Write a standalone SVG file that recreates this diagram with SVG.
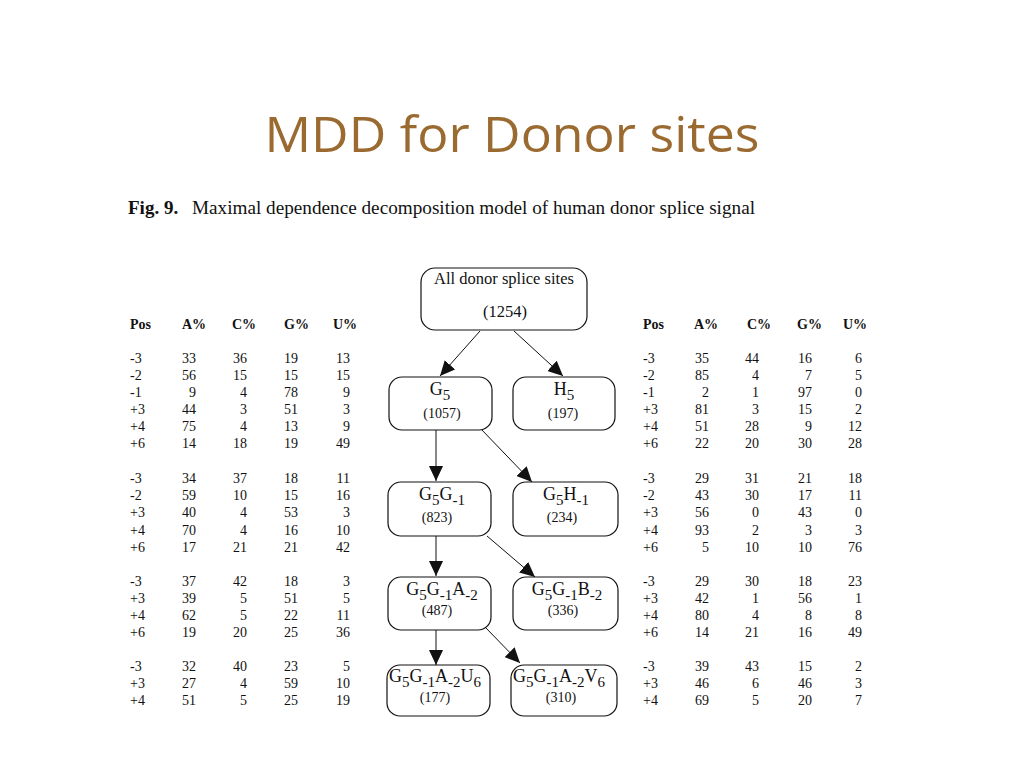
<svg xmlns="http://www.w3.org/2000/svg" width="1024" height="768" viewBox="0 0 1024 768">
<style>
.title{font-family:"Open Sans","Noto Sans",sans-serif;font-size:50px;fill:#9a6a30}
.cap{font-family:"Liberation Serif",serif;font-size:19px;fill:#111}
.t{font-family:"Liberation Serif",serif;font-size:14px;fill:#111}
.h{font-family:"Liberation Serif",serif;font-size:14px;font-weight:bold;fill:#111}
.r{text-anchor:end}
.box{fill:#fff;stroke:#111;stroke-width:1.2}
.lab{font-family:"Liberation Serif",serif;font-size:18px;fill:#111;text-anchor:middle}
.rl{font-family:"Liberation Serif",serif;font-size:16.5px;fill:#111;text-anchor:middle}
.st{text-anchor:start}
.cnt{font-family:"Liberation Serif",serif;font-size:14px;fill:#111;text-anchor:middle}
.s{font-size:15px}
.e{stroke:#111;stroke-width:1;fill:none;marker-end:url(#ah)}
</style>
<defs>
<marker id="ah" markerUnits="userSpaceOnUse" markerWidth="16" markerHeight="14" refX="15" refY="7" orient="auto">
<path d="M0,0 L15,7 L0,14 Z" fill="#111"/>
</marker>
</defs>
<rect width="1024" height="768" fill="#fff"/>
<text class="title" x="512" y="152" text-anchor="middle" textLength="495" lengthAdjust="spacingAndGlyphs">MDD for Donor sites</text>
<text class="cap" x="128" y="214"><tspan font-weight="bold">Fig. 9.</tspan></text>
<text class="cap" x="192" y="214" textLength="563" lengthAdjust="spacingAndGlyphs">Maximal dependence decomposition model of human donor splice signal</text>

<g id="connectors">
<line class="e" x1="480" y1="331" x2="440" y2="376"/>
<line class="e" x1="514" y1="331" x2="563" y2="376"/>
<line class="e" x1="436" y1="430" x2="436" y2="481"/>
<line class="e" x1="480" y1="428" x2="532" y2="482"/>
<line class="e" x1="436" y1="536" x2="436" y2="576"/>
<line class="e" x1="487" y1="536" x2="535" y2="577"/>
<line class="e" x1="436" y1="630" x2="436" y2="665"/>
<line class="e" x1="486" y1="628" x2="520" y2="663"/>
</g>

<g id="root">
<rect class="box" x="421" y="268" width="166" height="62" rx="14"/>
<text class="rl" x="504" y="284">All donor splice sites</text>
<text class="rl" x="505" y="317">(1254)</text>
</g>
<g id="g5">
<rect class="box" x="389" y="377" width="103" height="53" rx="13"/>
<text class="lab" x="440" y="395">G<tspan class="s" dy="5">5</tspan></text>
<text class="cnt" x="442" y="418">(1057)</text>
</g>
<g id="h5">
<rect class="box" x="513" y="377" width="102" height="53" rx="13"/>
<text class="lab" x="564" y="395">H<tspan class="s" dy="5">5</tspan></text>
<text class="cnt" x="563" y="418">(197)</text>
</g>
<g id="g5g1">
<rect class="box" x="388" y="482" width="103" height="54" rx="13"/>
<text class="lab" x="442" y="500">G<tspan class="s" dy="5">5</tspan><tspan dy="-5">G</tspan><tspan class="s" dy="5">-1</tspan></text>
<text class="cnt" x="437" y="522">(823)</text>
</g>
<g id="g5h1">
<rect class="box" x="513" y="482" width="105" height="54" rx="13"/>
<text class="lab" x="566" y="500">G<tspan class="s" dy="5">5</tspan><tspan dy="-5">H</tspan><tspan class="s" dy="5">-1</tspan></text>
<text class="cnt" x="562" y="522">(234)</text>
</g>
<g id="g5g1a2">
<rect class="box" x="388" y="577" width="103" height="53" rx="13"/>
<text class="lab" x="442" y="595">G<tspan class="s" dy="5">5</tspan><tspan dy="-5">G</tspan><tspan class="s" dy="5">-1</tspan><tspan dy="-5">A</tspan><tspan class="s" dy="5">-2</tspan></text>
<text class="cnt" x="437" y="615">(487)</text>
</g>
<g id="g5g1b2">
<rect class="box" x="513" y="577" width="105" height="53" rx="13"/>
<text class="lab" x="567" y="595">G<tspan class="s" dy="5">5</tspan><tspan dy="-5">G</tspan><tspan class="s" dy="5">-1</tspan><tspan dy="-5">B</tspan><tspan class="s" dy="5">-2</tspan></text>
<text class="cnt" x="563" y="615">(336)</text>
</g>
<g id="u6">
<rect class="box" x="387" y="665" width="103" height="51" rx="13"/>
<text class="lab st" x="389" y="682">G<tspan class="s" dy="5">5</tspan><tspan dy="-5">G</tspan><tspan class="s" dy="5">-1</tspan><tspan dy="-5">A</tspan><tspan class="s" dy="5">-2</tspan><tspan dy="-5">U</tspan><tspan class="s" dy="5">6</tspan></text>
<text class="cnt" x="435" y="702">(177)</text>
</g>
<g id="v6">
<rect class="box" x="511" y="665" width="106" height="51" rx="13"/>
<text class="lab st" x="513" y="682">G<tspan class="s" dy="5">5</tspan><tspan dy="-5">G</tspan><tspan class="s" dy="5">-1</tspan><tspan dy="-5">A</tspan><tspan class="s" dy="5">-2</tspan><tspan dy="-5">V</tspan><tspan class="s" dy="5">6</tspan></text>
<text class="cnt" x="561" y="702">(310)</text>
</g>

<g id="left-table">
<text class="h" x="130" y="329">Pos</text><text class="h" x="182" y="329">A%</text><text class="h" x="232" y="329">C%</text><text class="h" x="284" y="329">G%</text><text class="h" x="333" y="329">U%</text>
<g class="t">
<text x="130" y="363">-3</text><text x="130" y="380">-2</text><text x="130" y="397">-1</text><text x="130" y="414">+3</text><text x="130" y="431">+4</text><text x="130" y="448">+6</text>
<text x="130" y="483">-3</text><text x="130" y="500">-2</text><text x="130" y="517">+3</text><text x="130" y="535">+4</text><text x="130" y="552">+6</text>
<text x="130" y="586">-3</text><text x="130" y="603">+3</text><text x="130" y="620">+4</text><text x="130" y="637">+6</text>
<text x="130" y="671">-3</text><text x="130" y="688">+3</text><text x="130" y="705">+4</text>
</g>
<g class="t r">
<text x="196" y="363">33</text><text x="247" y="363">36</text><text x="298" y="363">19</text><text x="350" y="363">13</text>
<text x="196" y="380">56</text><text x="247" y="380">15</text><text x="298" y="380">15</text><text x="350" y="380">15</text>
<text x="196" y="397">9</text><text x="247" y="397">4</text><text x="298" y="397">78</text><text x="350" y="397">9</text>
<text x="196" y="414">44</text><text x="247" y="414">3</text><text x="298" y="414">51</text><text x="350" y="414">3</text>
<text x="196" y="431">75</text><text x="247" y="431">4</text><text x="298" y="431">13</text><text x="350" y="431">9</text>
<text x="196" y="448">14</text><text x="247" y="448">18</text><text x="298" y="448">19</text><text x="350" y="448">49</text>
<text x="196" y="483">34</text><text x="247" y="483">37</text><text x="298" y="483">18</text><text x="350" y="483">11</text>
<text x="196" y="500">59</text><text x="247" y="500">10</text><text x="298" y="500">15</text><text x="350" y="500">16</text>
<text x="196" y="517">40</text><text x="247" y="517">4</text><text x="298" y="517">53</text><text x="350" y="517">3</text>
<text x="196" y="535">70</text><text x="247" y="535">4</text><text x="298" y="535">16</text><text x="350" y="535">10</text>
<text x="196" y="552">17</text><text x="247" y="552">21</text><text x="298" y="552">21</text><text x="350" y="552">42</text>
<text x="196" y="586">37</text><text x="247" y="586">42</text><text x="298" y="586">18</text><text x="350" y="586">3</text>
<text x="196" y="603">39</text><text x="247" y="603">5</text><text x="298" y="603">51</text><text x="350" y="603">5</text>
<text x="196" y="620">62</text><text x="247" y="620">5</text><text x="298" y="620">22</text><text x="350" y="620">11</text>
<text x="196" y="637">19</text><text x="247" y="637">20</text><text x="298" y="637">25</text><text x="350" y="637">36</text>
<text x="196" y="671">32</text><text x="247" y="671">40</text><text x="298" y="671">23</text><text x="350" y="671">5</text>
<text x="196" y="688">27</text><text x="247" y="688">4</text><text x="298" y="688">59</text><text x="350" y="688">10</text>
<text x="196" y="705">51</text><text x="247" y="705">5</text><text x="298" y="705">25</text><text x="350" y="705">19</text>
</g>
</g>

<g id="right-table">
<text class="h" x="643" y="329">Pos</text><text class="h" x="694" y="329">A%</text><text class="h" x="747" y="329">C%</text><text class="h" x="797" y="329">G%</text><text class="h" x="843" y="329">U%</text>
<g class="t">
<text x="643" y="363">-3</text><text x="643" y="380">-2</text><text x="643" y="397">-1</text><text x="643" y="414">+3</text><text x="643" y="431">+4</text><text x="643" y="448">+6</text>
<text x="643" y="483">-3</text><text x="643" y="500">-2</text><text x="643" y="517">+3</text><text x="643" y="535">+4</text><text x="643" y="552">+6</text>
<text x="643" y="586">-3</text><text x="643" y="603">+3</text><text x="643" y="620">+4</text><text x="643" y="637">+6</text>
<text x="643" y="671">-3</text><text x="643" y="688">+3</text><text x="643" y="705">+4</text>
</g>
<g class="t r">
<text x="709" y="363">35</text><text x="759" y="363">44</text><text x="812" y="363">16</text><text x="862" y="363">6</text>
<text x="709" y="380">85</text><text x="759" y="380">4</text><text x="812" y="380">7</text><text x="862" y="380">5</text>
<text x="709" y="397">2</text><text x="759" y="397">1</text><text x="812" y="397">97</text><text x="862" y="397">0</text>
<text x="709" y="414">81</text><text x="759" y="414">3</text><text x="812" y="414">15</text><text x="862" y="414">2</text>
<text x="709" y="431">51</text><text x="759" y="431">28</text><text x="812" y="431">9</text><text x="862" y="431">12</text>
<text x="709" y="448">22</text><text x="759" y="448">20</text><text x="812" y="448">30</text><text x="862" y="448">28</text>
<text x="709" y="483">29</text><text x="759" y="483">31</text><text x="812" y="483">21</text><text x="862" y="483">18</text>
<text x="709" y="500">43</text><text x="759" y="500">30</text><text x="812" y="500">17</text><text x="862" y="500">11</text>
<text x="709" y="517">56</text><text x="759" y="517">0</text><text x="812" y="517">43</text><text x="862" y="517">0</text>
<text x="709" y="535">93</text><text x="759" y="535">2</text><text x="812" y="535">3</text><text x="862" y="535">3</text>
<text x="709" y="552">5</text><text x="759" y="552">10</text><text x="812" y="552">10</text><text x="862" y="552">76</text>
<text x="709" y="586">29</text><text x="759" y="586">30</text><text x="812" y="586">18</text><text x="862" y="586">23</text>
<text x="709" y="603">42</text><text x="759" y="603">1</text><text x="812" y="603">56</text><text x="862" y="603">1</text>
<text x="709" y="620">80</text><text x="759" y="620">4</text><text x="812" y="620">8</text><text x="862" y="620">8</text>
<text x="709" y="637">14</text><text x="759" y="637">21</text><text x="812" y="637">16</text><text x="862" y="637">49</text>
<text x="709" y="671">39</text><text x="759" y="671">43</text><text x="812" y="671">15</text><text x="862" y="671">2</text>
<text x="709" y="688">46</text><text x="759" y="688">6</text><text x="812" y="688">46</text><text x="862" y="688">3</text>
<text x="709" y="705">69</text><text x="759" y="705">5</text><text x="812" y="705">20</text><text x="862" y="705">7</text>
</g>
</g>
</svg>
